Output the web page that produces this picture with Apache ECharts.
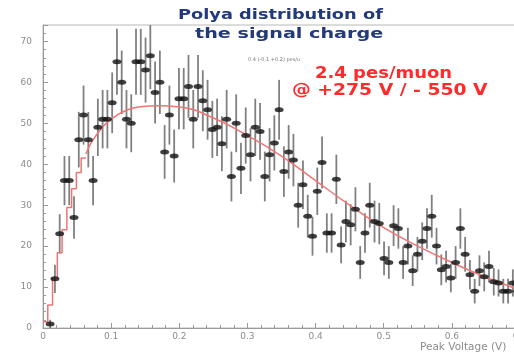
<!DOCTYPE html>
<html>
<head>
<meta charset="utf-8">
<script src="https://cdn.jsdelivr.net/npm/echarts@6/dist/echarts.min.js"></script>
<style>
  html, body { margin: 0; padding: 0; background: #fff; }
  #chart { width: 514px; height: 354px; }
</style>
</head>
<body>
<div id="chart"></div>
<script>
// Histogram of peak voltage: 100 bins of width 0.007 V starting at 0
const binWidth = 0.007;
const counts = [
  null, 1, 12, 23, 36, 36, 27, 46, 52, 46,
  36, 49, 51, 51, 55, 65, 60, 51, 50, 65,
  65, 63, 66.5, 57.5, 60, 43, 52, 42, 56, 56,
  59, 51, 59, 55.5, 53.3, 48.5, 49, 45, 51, 37,
  50, 39, 47, 42.3, 49, 48, 37, 42.3, 45.2, 53.3,
  38.2, 43, 41, 30, 35, 27.3, 22.4, 33.4, 40.4, 23.2,
  23.2, 36.3, 20.3, 26, 25.2, 29, 16, 23.2, 30, 26,
  25.5, 17, 16, 25, 24.3, 16, 20, 14, 18, 21.2,
  24.3, 27.3, 20, 14.2, 15, 12.2, 16, 24.3, 18, 13,
  9, 14, 12.5, 15, 11.3, 11, 9, 9, 11, 9
];

// Polya fit: stepped part at low voltage (bin edges) and smooth part above
const fitStepX = [0, 0.007, 0.014, 0.021, 0.028, 0.035, 0.042, 0.049, 0.056, 0.063];
const fitStepY = [1.5, 5.6, 12.2, 18.4, 24, 29.4, 34, 38, 41.5, 41.5];
const fitX = [0.063, 0.07, 0.08, 0.09, 0.1, 0.12, 0.14, 0.17, 0.2, 0.25, 0.3, 0.35, 0.4, 0.45, 0.5, 0.55, 0.6, 0.65, 0.7];
const fitY = [42.5, 45, 47.5, 49.5, 51, 53, 54, 54.3, 54, 51.3, 47, 42, 36, 30, 24.5, 20, 16, 12.4, 9.3];

const xTicks = { min: 0, max: 0.7, interval: 0.1 };
const yTicks = { min: 0, max: 74, interval: 10 };

const titleLines = ['Polya distribution of', 'the signal charge'];
const noteLines = ['2.4 pes/muon', '@ +275 V / - 550 V'];
const fitNote = '0.4 (-0.1 +0.2) pes/u';
const xName = 'Peak Voltage (V)';

// histogram points with Poisson errors
const points = [];
counts.forEach((c, i) => {
  if (c === null) return;
  points.push([(i + 0.5) * binWidth, c, Math.sqrt(c)]);
});

const chart = echarts.init(document.getElementById('chart'), null, { renderer: 'canvas' });

const axisGrey = '#9a9a9a';
const labelGrey = '#8c8c8c';

// one stretched text line, anchored at its left edge
function wideText(text, x, y, scaleX, font, fill) {
  return {
    type: 'text', x: x, y: y, scaleX: scaleX, z: 10,
    style: { text: text, fill: fill, align: 'left', verticalAlign: 'top', font: font }
  };
}

const titleFont = 'bold 14px "DejaVu Sans"';
const noteFont = 'bold 15.5px "DejaVu Sans"';

chart.setOption({
  animation: false,
  backgroundColor: '#fff',
  grid: {
    left: 43, top: 25, right: -6, bottom: 26,
    containLabel: false, outerBoundsMode: 'none',
    show: true, borderColor: '#b8b8b8', borderWidth: 1
  },
  xAxis: {
    type: 'value',
    min: xTicks.min, max: xTicks.max, interval: xTicks.interval,
    axisLine: { show: true, lineStyle: { color: axisGrey } },
    axisTick: { show: true, inside: true, length: 5, lineStyle: { color: axisGrey } },
    minorTick: { show: true, splitNumber: 5, length: 3, lineStyle: { color: axisGrey } },
    splitLine: { show: false },
    axisLabel: {
      color: labelGrey, fontFamily: 'DejaVu Sans', fontSize: 9, margin: 4,
      formatter: v => (v === 0 ? '0' : v.toFixed(1))
    }
  },
  yAxis: {
    type: 'value',
    min: yTicks.min, max: yTicks.max, interval: yTicks.interval,
    axisLine: { show: true, lineStyle: { color: axisGrey } },
    axisTick: { show: true, inside: true, length: 5, lineStyle: { color: axisGrey } },
    minorTick: { show: true, splitNumber: 5, length: 3, lineStyle: { color: axisGrey } },
    splitLine: { show: false },
    axisLabel: {
      color: labelGrey, fontFamily: 'DejaVu Sans', fontSize: 9, margin: 11,
      showMaxLabel: false
    }
  },
  series: [
    {
      // vertical error bars
      type: 'custom',
      clip: true,
      data: points,
      renderItem: (params, api) => {
        const x = api.value(0), y = api.value(1), e = api.value(2);
        const lo = api.coord([x, y - e]);
        const hi = api.coord([x, y + e]);
        return {
          type: 'line',
          shape: { x1: lo[0], y1: lo[1], x2: hi[0], y2: hi[1] },
          style: { stroke: '#808080', lineWidth: 1.8 }
        };
      },
      z: 2
    },
    {
      type: 'line',
      data: fitStepX.map((x, i) => [x, fitStepY[i]]),
      step: 'end',
      showSymbol: false,
      lineStyle: { color: '#f07474', width: 1.5 },
      z: 3
    },
    {
      type: 'line',
      data: fitX.map((x, i) => [x, fitY[i]]),
      smooth: true,
      showSymbol: false,
      lineStyle: { color: '#f07474', width: 1.5 },
      z: 3
    },
    {
      type: 'scatter',
      data: points.map(p => [p[0], p[1]]),
      symbol: 'circle',
      symbolSize: [9, 5],
      itemStyle: { color: '#111' },
      z: 4
    }
  ],
  graphic: [
    wideText(titleLines[0], 178, 8, 1.27, titleFont, '#22397a'),
    wideText(titleLines[1], 195, 27, 1.37, titleFont, '#22397a'),
    {
      type: 'text', left: 248, top: 57,
      style: { text: fitNote, fill: '#777', font: '5px "DejaVu Sans"' }
    },
    wideText(noteLines[0], 315, 66, 1.16, noteFont, '#ff2b2b'),
    wideText(noteLines[1], 292, 83, 1.21, noteFont, '#ff2b2b'),
    {
      type: 'text', left: 420, top: 342,
      style: { text: xName, fill: labelGrey, font: '10.5px "DejaVu Sans"' }
    }
  ]
});
</script>
</body>
</html>
